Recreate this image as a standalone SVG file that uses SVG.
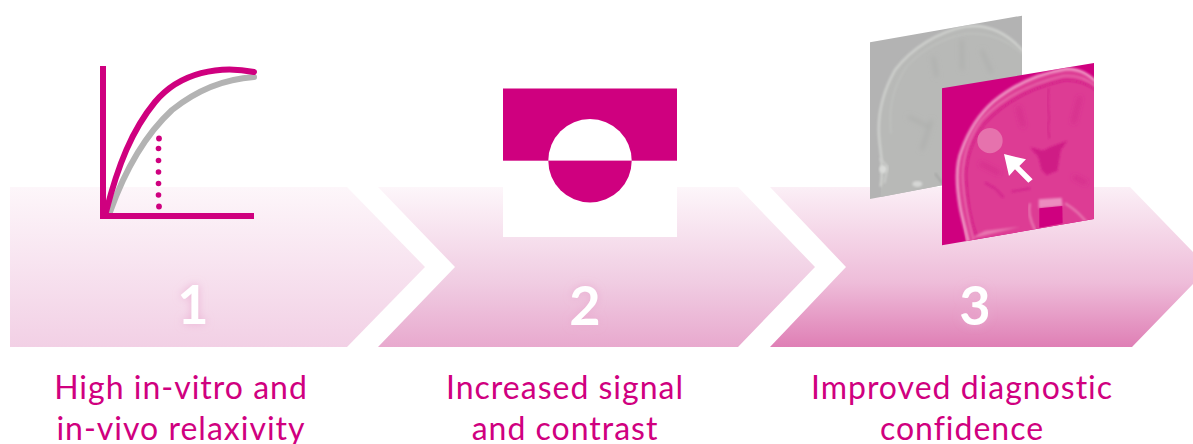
<svg xmlns="http://www.w3.org/2000/svg" width="1193" height="444" viewBox="0 0 1193 444">
<style>
.lab{font-family:"Lato","Noto Sans",sans-serif;font-size:32px;font-weight:400;letter-spacing:1px;fill:#d0007f;text-anchor:middle}
.num{font-family:"Lato","Liberation Sans",sans-serif;font-size:54px;font-weight:700;fill:#fff;text-anchor:middle;filter:url(#glow)}
.axis{fill:none;stroke:#cf007f;stroke-width:6}
.curve{fill:none;stroke-width:6;stroke-linecap:round}
</style>
<defs>
<linearGradient id="g1" x1="0" y1="0" x2="0" y2="1"><stop offset="0" stop-color="#fdf6fa"/><stop offset="1" stop-color="#f2d0e5"/></linearGradient>
<linearGradient id="g2" x1="0" y1="0" x2="0" y2="1"><stop offset="0" stop-color="#fdf6fa"/><stop offset="0.6" stop-color="#f0cce2"/><stop offset="1" stop-color="#e8a9ce"/></linearGradient>
<linearGradient id="g3" x1="0" y1="0" x2="0" y2="1"><stop offset="0" stop-color="#fbeff6"/><stop offset="0.6" stop-color="#eebcd9"/><stop offset="1" stop-color="#df7fb5"/></linearGradient>
<filter id="glow" x="-50%" y="-50%" width="200%" height="200%"><feDropShadow dx="0" dy="0" stdDeviation="4" flood-color="#e8a9ce" flood-opacity="0.8"/></filter>
<filter id="soft" x="-10%" y="-10%" width="120%" height="120%"><feGaussianBlur stdDeviation="2.500"/></filter>
<filter id="softer" x="-20%" y="-20%" width="140%" height="140%"><feGaussianBlur stdDeviation="8"/></filter>
<clipPath id="clipGrey"><polygon points="15,97 471,17 471,480 15,567"/></clipPath>
<clipPath id="clipPink"><polygon points="6,85 462,9 462,477 6,556"/></clipPath>
</defs>

<g id="connectors"></g>

<g id="step1">
<polygon points="10,187 347,187 425,267 347,347 10,347" fill="url(#g1)"/>
<path class="curve" stroke="#b3b3b3" d="M110,212 C125,170 145,135 172,110 C197,90 225,79 254,77"/>
<path class="curve" stroke="#cf007f" d="M106,212 C118,165 132,130 155,102 C180,72 220,65 254,72"/>
<path class="axis" d="M103,66 V216 H254"/>
<g fill="#cf007f"><circle cx="159" cy="138.500" r="2.900"/><circle cx="158.500" cy="148.500" r="2.800"/><circle cx="158.500" cy="160.500" r="2.800"/><circle cx="158.500" cy="172" r="2.800"/><circle cx="158.500" cy="183.500" r="2.800"/><circle cx="158.500" cy="195" r="2.800"/><circle cx="159" cy="206.500" r="2.900"/></g>
<text class="num" x="193" y="324">1</text>
<text class="lab" x="181" y="399">High in-vitro and</text>
<text class="lab" x="181" y="440">in-vivo relaxivity</text>
</g>

<g id="step2">
<polygon points="378,187 738,187 815,267 738,347 378,347 455,267" fill="url(#g2)"/>
<rect x="503" y="160.700" width="174" height="76.300" fill="#fff"/>
<rect x="503" y="88.500" width="174" height="72.200" fill="#cf007f"/>
<path d="M548.300,160.700 A41.700,41.700 0 0 1 631.700,160.700 Z" fill="#fff"/>
<path d="M548.300,160.700 A41.700,41.700 0 0 0 631.700,160.700 Z" fill="#cf007f"/>
<text class="num" x="585" y="325">2</text>
<text class="lab" x="565" y="399">Increased signal</text>
<text class="lab" x="565" y="440">and contrast</text>
</g>

<g id="step3">
<polygon points="770,187 1130,187 1193,252 1193,284 1132,347 770,347 846,267" fill="url(#g3)"/>
<g transform="translate(865,10) scale(0.3333)">
<polygon points="15,97 471,17 471,480 15,567" fill="#b3b3b3"/>
<g clip-path="url(#clipGrey)">
<path d="M47,570 L50,440 C35,340 45,260 90,180 C140,115 220,65 300,50 C370,40 430,70 480,130 V570 Z" fill="#b8b9b7"/>
<path d="M47,530 C55,480 50,440 44,400 C35,330 45,260 90,180 C140,115 220,65 300,50 C370,40 430,70 480,130" fill="none" stroke="#d0d2cf" stroke-width="7" filter="url(#soft)"/>
<path d="M78,370 C70,290 85,230 125,170 C175,115 235,85 300,72 C370,65 430,90 480,140" fill="none" stroke="#c4c6c3" stroke-width="3" filter="url(#soft)"/>
<path d="M205,140 L215,200 M290,90 L292,180 M350,120 L380,190 M130,320 L190,350 M200,330 L170,420" fill="none" stroke="#acadab" stroke-width="8" filter="url(#softer)"/>
<circle cx="55" cy="478" r="12" fill="#dadbd9" filter="url(#soft)"/>
<path d="M44,445 L68,470 L58,520" fill="none" stroke="#cbccca" stroke-width="6" filter="url(#soft)"/>
<ellipse cx="157" cy="522" rx="15" ry="9" fill="#d6d7d5" filter="url(#soft)"/>
<path d="M210,490 L232,520" fill="none" stroke="#a9aaa9" stroke-width="8" filter="url(#soft)"/>
</g>
</g>
<g transform="translate(940,60) scale(0.3333)">
<polygon points="6,85 462,9 462,477 6,556" fill="#cf007f"/>
<g clip-path="url(#clipPink)">
<path d="M80,560 L60,440 C48,370 48,310 65,270 C85,215 120,160 160,125 C220,75 300,40 380,25 C420,25 445,40 475,70 V560 Z" fill="#dd3c94"/>
<path d="M85,545 C75,500 65,470 60,440 C48,370 48,310 65,270 C85,215 120,160 160,125 C220,75 300,40 380,27 C420,27 445,42 475,72" fill="none" stroke="#ee92c2" stroke-width="9" filter="url(#soft)"/>
<path d="M112,535 C95,490 80,420 78,345 C80,290 100,235 135,190 C190,130 270,85 370,62 C405,58 440,70 475,95" fill="none" stroke="#cf1382" stroke-width="4" filter="url(#soft)"/>
<path d="M100,540 C85,480 70,410 68,345 C70,285 92,225 125,180 C180,120 265,72 370,48 C410,44 445,58 475,85" fill="none" stroke="#e86fae" stroke-width="5" filter="url(#soft)"/>
<path d="M235,140 L250,200 M420,110 L400,190 M120,310 L180,340 M400,350 L440,370" fill="none" stroke="#d42a8b" stroke-width="10" filter="url(#softer)"/>
<path d="M325,85 L322,130 L328,175 L322,205 L330,235" fill="none" stroke="#d42a8b" stroke-width="7" filter="url(#soft)"/>
<path d="M270,262 L310,272 L330,262 L382,242 L362,270 L352,332 L320,345 L305,330 L295,290 Z" fill="#cf1a85" filter="url(#soft)"/>
<path d="M135,368 L165,385 L190,412 M215,395 L270,385" fill="none" stroke="#d0208a" stroke-width="5" filter="url(#soft)"/>
<circle cx="150" cy="242" r="38" fill="#e672ad"/>
<path d="M270,430 C262,460 275,490 285,510" fill="none" stroke="#e877b0" stroke-width="7" filter="url(#soft)"/>
<path d="M375,430 C400,445 425,465 445,495" fill="none" stroke="#e877b0" stroke-width="7" filter="url(#soft)"/>
<path d="M296,418 L365,413 L368,438 L296,445 Z" fill="#ec8cbf" filter="url(#soft)"/>
<polygon points="298,445 367,438 368,490 298,503" fill="#cf007f"/>
<path d="M105,528 L135,512 L240,500 L100,535 Z" fill="#e877b0" filter="url(#soft)"/>
</g>
<polygon points="192,282 258,298 238,318 278,358 265,368 225,328 207,348" fill="#fff"/>
</g>
<text class="num" x="975" y="325">3</text>
<text class="lab" x="962" y="399">Improved diagnostic</text>
<text class="lab" x="962" y="440">confidence</text>
</g>
</svg>
